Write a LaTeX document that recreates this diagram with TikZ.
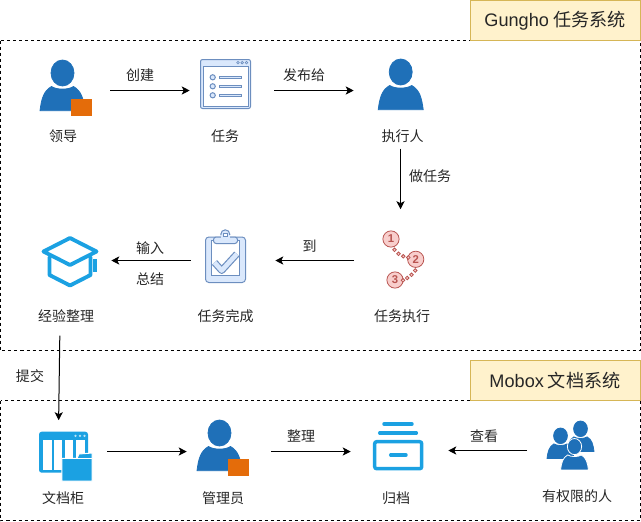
\documentclass[tikz,border=0pt]{standalone}
\usepackage{fontspec}
\setmainfont{Noto Sans CJK SC}
\newfontfamily\titlefont{Liberation Sans}
\usetikzlibrary{arrows.meta}

\definecolor{personblue}{HTML}{1F70B8}
\definecolor{orangebox}{HTML}{E46C0A}
\definecolor{iconblue}{HTML}{1BA1E2}
\definecolor{paleblue}{HTML}{DAE8FC}
\definecolor{lineblue}{HTML}{6C8EBF}
\definecolor{palered}{HTML}{F8CECC}
\definecolor{linered}{HTML}{B85450}
\definecolor{paleyellow}{HTML}{FFF2CC}
\definecolor{lineyellow}{HTML}{D6B656}

\tikzset{
    flow/.style 2 args={-{Stealth[length=6pt,width=6pt,inset=1.5pt]}, line width=0.75pt, shorten <=#1*0.75pt, shorten >=#2*0.75pt},
    iconbox/.style={minimum width=30pt, minimum height=30pt, inner sep=0pt},
    word/.style={font=\fontsize{10.5pt}{12pt}\selectfont, text=black!85, inner sep=0pt},
    systembox/.style={draw=lineyellow, fill=paleyellow, line width=0.75pt, minimum width=127.5pt, minimum height=30pt, inner sep=0pt, font=\fontsize{13.6pt}{15pt}\selectfont, text=black!85},
    zone/.style={draw=black, line width=0.75pt, dash pattern=on 2.25pt off 2.25pt},
    pics/person/.style={code={
        \fill[personblue, draw=#1, line width=0.6pt] (-22.5,25.7) .. controls (-21,14) and (-19,6) .. (-11,1.5) .. controls (-6,5) and (6,5) .. (11,1.5) .. controls (19,6) and (21,14) .. (22.5,25.7) -- cycle;
        \fill[personblue, draw=#1, line width=0.6pt] (0,-12) ellipse [x radius=11.5, y radius=13];
    }}
}

\begin{document}
\begin{tikzpicture}[x=0.75pt, y=-0.75pt]
    \useasboundingbox (0,0) rectangle (641,521);

    % dashed zones and their titles
    \draw[zone] (0.5,40.5) rectangle (640,350.5);
    \draw[zone] (0.5,400.5) rectangle (640,520.5);
    \node[systembox] (gungho) at (555,20.5) {{\titlefont Gungho} 任务系统};
    \node[systembox] (mobox) at (555,380.5) {{\titlefont Mobox} 文档系统};

    % places of the icons
    \node[iconbox] (lead) at (63,90.5) {};
    \node[iconbox] (task) at (225,90.5) {};
    \node[iconbox] (exec) at (400.7,90.5) {};
    \node[iconbox] (run) at (400.5,260.5) {};
    \node[iconbox] (done) at (225,260.5) {};
    \node[iconbox] (cap) at (70,260.5) {};
    \node[iconbox] (cabinet) at (63,451.5) {};
    \node[iconbox] (manager) at (219.5,451.5) {};
    \node[iconbox] (archive) at (398,451.5) {};
    \node[iconbox] (group) at (571,450.5) {};

    % people
    \pic at (62.5,85) {person=personblue};
    \pic at (400.7,84) {person=personblue};
    \pic at (219.5,445) {person=personblue};
    \fill[orangebox] (71,99) rectangle (92,115.7);
    \fill[orangebox] (227.7,459) rectangle (249,476);
    \pic[scale=0.6] at (560.5,443) {person=personblue};
    \pic[scale=0.6] at (580.5,436) {person=personblue};
    \pic[scale=0.62] at (574.5,454) {person=white};

    % task window
    \draw[fill=paleblue, draw=lineblue, rounded corners=1.5pt, line width=0.75pt] (200.5,59.5) rectangle (250.5,108.5);
    \draw[fill=white, draw=lineblue, line width=0.75pt] (203,66.5) rectangle (248,106);
    \foreach \x in {238, 242.2, 246.5}
        \draw[draw=lineblue, fill=paleblue, line width=0.5pt] (\x,62.7) circle (1.3);
    \foreach \y in {77.3, 86.3, 95.3} {
        \draw[draw=lineblue, fill=paleblue, line width=0.75pt] (212.7,\y) circle (2.6);
        \draw[draw=lineblue, fill=paleblue, line width=0.6pt] (219,\y-1.2) rectangle (241,\y+1.2);
    }

    % clipboard
    \draw[fill=paleblue, draw=lineblue, rounded corners=2.5pt, line width=0.75pt] (205.5,237) rectangle (245.5,282.5);
    \draw[fill=white, draw=lineblue, line width=0.75pt] (211,240) rectangle (239.3,275.7);
    \draw[fill=paleblue, draw=lineblue, line width=0.75pt] (225.3,234.3) circle (4.5);
    \draw[fill=paleblue, draw=lineblue, rounded corners=2pt, line width=0.75pt] (213.5,243.5) -- (213.5,237) -- (237.5,237) -- (237.5,243.5) -- cycle;
    \fill[paleblue] (221,235) rectangle (229.6,239);
    \draw[fill=white, draw=lineblue, line width=0.6pt] (223.6,233) rectangle (227,236.4);
    \draw[lineblue, line width=5.25pt, line join=round] (214.5,262.5) -- (221.7,270.5) -- (236.8,254);
    \draw[paleblue, line width=3.5pt, line join=round] (214.5,262.5) -- (221.7,270.5) -- (236.8,254);

    % graduation cap
    \begin{scope}[iconblue, line width=2.9pt, line join=round, line cap=round]
        \draw (70,238) -- (96.5,251.5) -- (70,265) -- (43.5,251.5) -- cycle;
        \draw (49.5,257) -- (49.5,275) -- (70,285.5) -- (90.5,275) -- (90.5,257);
    \end{scope}
    \fill[iconblue] (93.3,259.3) rectangle (96.7,271.7);

    % numbered steps
    \foreach \n/\a/\b/\t in {stepa/391/239/1, stepb/415.7/259.3/2, stepc/395/280/3}
        \node[draw=linered, fill=palered, circle, minimum size=12.2pt, inner sep=0pt, line width=0.6pt, text=linered, font=\titlefont\bfseries\fontsize{8.5pt}{9pt}\selectfont] (\n) at (\a,\b) {\t};
    \foreach \a/\b in {394.5/249.8, 398.5/253.8, 403.3/256.3, 408.3/257.5, 415.2/270.5, 411.5/274.8, 407.2/278, 403/280.3}
        \draw[draw=linered, fill=palered, line width=0.6pt] (\a,\b) circle (1.8);

    % document cabinet
    \fill[iconblue, rounded corners=2pt] (39,431.7) rectangle (88,472.7);
    \foreach \a/\b in {42.7/51.7, 54/62.3, 65/73.3, 76/85}
        \fill[white] (\a,440) rectangle (\b,470);
    \foreach \x in {75.5, 80, 84.5}
        \fill[white!70!iconblue] (\x,435.8) circle (1.3);
    \draw[fill=iconblue, draw=white, line width=0.75pt] (61.8,458.3) -- (77,458.3) -- (79,454) -- (92.2,453) -- (92.2,481) -- (61.8,481) -- cycle;
    \draw[white, line width=0.75pt] (77,458.3) -- (92.2,458.3);

    % archive box
    \begin{scope}[iconblue, line width=2.6pt, line cap=round]
        \draw (384,424) -- (412,424);
        \draw (379.7,433) -- (416.3,433);
        \draw[rounded corners=1.5pt] (374.7,441.7) rectangle (421.7,468.7);
        \draw (390.7,455) -- (406,455);
    \end{scope}

    % labels under the icons
    \node[word] (leadtext) at (63,136) {领导};
    \node[word] (tasktext) at (225,136) {任务};
    \node[word] (exectext) at (402.7,136) {执行人};
    \node[word] (runtext) at (402,316) {任务执行};
    \node[word] (donetext) at (225.5,316) {任务完成};
    \node[word] (captext) at (66,316) {经验整理};
    \node[word] (cabinettext) at (63,498) {文档柜};
    \node[word] (managertext) at (223,498) {管理员};
    \node[word] (archivetext) at (396,498) {归档};
    \node[word] (grouptext) at (577,496) {有权限的人};

    % labels on the arrows
    \node[word] (create) at (140,75) {创建};
    \node[word] (assign) at (304,75) {发布给};
    \node[word] (todo) at (430,176) {做任务};
    \node[word] (reach) at (309.5,246) {到};
    \node[word] (input) at (150,248) {输入};
    \node[word] (summary) at (150,279) {总结};
    \node[word] (submit) at (30,376) {提交};
    \node[word] (tidy) at (301,436) {整理};
    \node[word] (view) at (484,436) {查看};

    % connectors
    \draw[flow={27}{15}] (lead) -- (task);
    \draw[flow={29}{26.7}] (task) -- (exec);
    \draw[flow={6}{31}] (run.north |- exectext.south) -- (run.north);
    \draw[flow={26}{30}] (run) -- (done);
    \draw[flow={14}{21}] (done) -- (cap);
    \draw[flow={13}{11}] ([xshift=-4.5pt]captext.south) -- ([xshift=-3.4pt]cabinet.north);
    \draw[flow={24}{12.5}] (cabinet) -- (manager);
    \draw[flow={31.5}{27}] (manager) -- (archive);
    \draw[flow={23.5}{30}] (group) -- (archive.east |- group);
\end{tikzpicture}
\end{document}
